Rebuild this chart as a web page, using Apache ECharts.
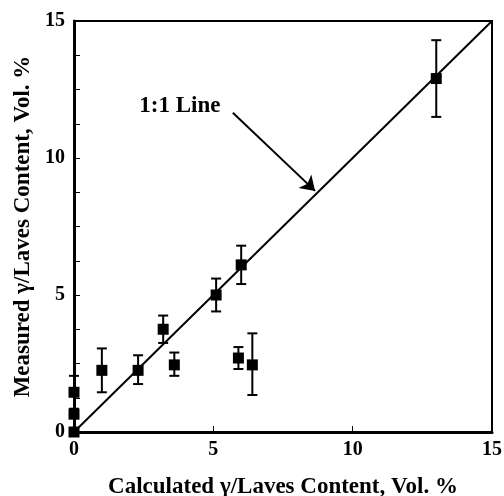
<!DOCTYPE html>
<html>
<head>
<meta charset="utf-8">
<script src="https://cdn.jsdelivr.net/npm/echarts@6/dist/echarts.min.js"></script>
<style>
  html, body { margin: 0; padding: 0; background: #fff; }
  #chart { width: 504px; height: 496px; }
</style>
</head>
<body>
<div id="chart"></div>
<script>
// calculated vs measured content, vol. %
const calcX = [0, 0, 0, 1.0, 2.3, 3.2, 3.6, 5.1, 5.9, 6.0, 6.4, 13.0];
const measY = [0, 0.65, 1.45, 2.25, 2.25, 3.75, 2.45, 5.0, 2.7, 6.1, 2.45, 12.9];
const errLow = [0, 0, 0.85, 1.45, 1.75, 3.25, 2.05, 4.4, 2.3, 5.4, 1.35, 11.5];
const errHigh = [0, 0, 2.05, 3.05, 2.8, 4.25, 2.9, 5.6, 3.1, 6.8, 3.6, 14.3];
const oneToOne = [[0, 0], [15, 15]];
const arrowFrom = [5.7, 11.65];
const arrowTo = [8.65, 8.8];
const labelAt = [3.8, 11.9];
const ticks = [0, 5, 10, 15];

const chart = echarts.init(document.getElementById('chart'));
const font = '"Liberation Serif", "DejaVu Serif", serif';

const points = calcX.map((x, i) => [x, measY[i]]);
const bars = calcX.map((x, i) => [x, errLow[i], errHigh[i]])
  .filter(d => d[2] > d[1]);

const option = {
  animation: false,
  backgroundColor: '#fff',
  grid: {
    left: 74, top: 21, right: 12, bottom: 64,
    outerBoundsMode: 'none',
    show: true, borderColor: '#000', borderWidth: 2
  },
  xAxis: {
    type: 'value', min: 0, max: 15, interval: 5,
    name: 'Calculated γ/Laves Content, Vol. %',
    nameLocation: 'middle', nameGap: 44,
    nameTextStyle: { fontFamily: font, fontWeight: 'bold', fontSize: 23, color: '#000' },
    axisLine: { lineStyle: { color: '#000', width: 3 } },
    axisTick: { inside: true, length: 6, lineStyle: { color: '#000', width: 1 } },
    axisLabel: {
      margin: 8, fontFamily: font, fontWeight: 'bold', fontSize: 20, color: '#000'
    },
    splitLine: { show: false }
  },
  yAxis: {
    type: 'value', min: 0, max: 15, interval: 1.25,
    name: 'Measured γ/Laves Content, Vol. %',
    nameLocation: 'middle', nameGap: 35,
    nameTextStyle: { fontFamily: font, fontWeight: 'bold', fontSize: 23, color: '#000' },
    axisLine: { lineStyle: { color: '#000', width: 3 } },
    axisTick: { inside: true, length: 6, lineStyle: { color: '#000', width: 1 } },
    axisLabel: {
      margin: 9, fontFamily: font, fontWeight: 'bold', fontSize: 20, color: '#000',
      formatter: v => ticks.includes(v) ? String(v) : ''
    },
    splitLine: { show: false }
  },
  series: [
    {
      type: 'line',
      data: oneToOne,
      symbol: 'none',
      lineStyle: { color: '#000', width: 2 },
      z: 2
    },
    {
      type: 'custom',
      data: bars,
      renderItem: function (params, api) {
        const x = api.value(0);
        const lo = api.coord([x, api.value(1)]);
        const hi = api.coord([x, api.value(2)]);
        const cap = 5;
        const style = { stroke: '#000', lineWidth: 2 };
        return {
          type: 'group',
          children: [
            { type: 'line', shape: { x1: lo[0], y1: lo[1], x2: hi[0], y2: hi[1] }, style: style },
            { type: 'line', shape: { x1: lo[0] - cap, y1: lo[1], x2: lo[0] + cap, y2: lo[1] }, style: style },
            { type: 'line', shape: { x1: hi[0] - cap, y1: hi[1], x2: hi[0] + cap, y2: hi[1] }, style: style }
          ]
        };
      },
      z: 3
    },
    {
      type: 'scatter',
      data: points,
      symbol: 'rect',
      symbolSize: 11,
      itemStyle: { color: '#000', opacity: 1 },
      z: 4
    },
    {
      type: 'lines',
      coordinateSystem: 'cartesian2d',
      data: [{ coords: [arrowFrom, arrowTo] }],
      symbol: ['none', 'arrow'],
      symbolSize: 14,
      lineStyle: { color: '#000', width: 2, opacity: 1 },
      z: 5
    },
    {
      type: 'scatter',
      data: [labelAt],
      symbolSize: 0,
      itemStyle: { opacity: 1 },
      label: {
        show: true, position: 'inside', formatter: '1:1 Line',
        fontFamily: font, fontWeight: 'bold', fontSize: 23, color: '#000'
      },
      z: 5
    }
  ]
};

chart.setOption(option);
</script>
</body>
</html>
